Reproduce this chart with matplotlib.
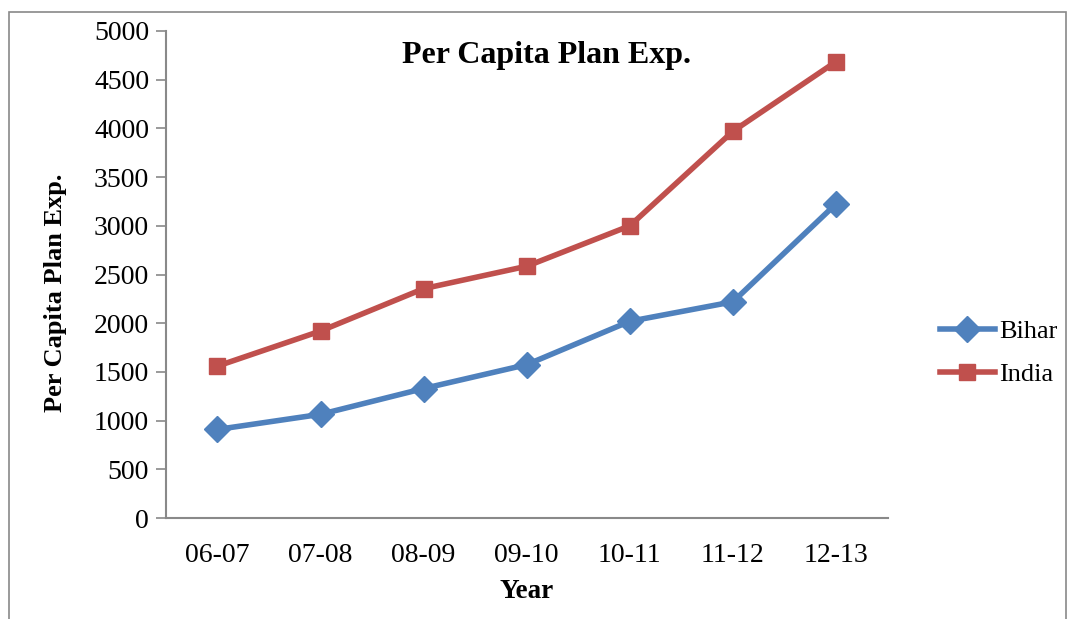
import matplotlib.pyplot as plt
from matplotlib.patches import Rectangle

years = ["06-07", "07-08", "08-09", "09-10", "10-11", "11-12", "12-13"]
bihar = [910, 1065, 1330, 1575, 2020, 2220, 3225]
india = [1560, 1920, 2355, 2585, 3000, 3970, 4685]

plt.rcParams["font.family"] = ["Liberation Serif", "DejaVu Serif"]

fig = plt.figure(figsize=(10.7, 6.19), dpi=100)
ax = fig.add_axes([0.155, 0.163, 0.6745, 0.787])

x = list(range(len(years)))
ax.plot(x, bihar, color="#4F81BD", lw=4, marker="D", ms=13, label="Bihar")
ax.plot(x, india, color="#C0504D", lw=4, marker="s", ms=11, label="India")

ax.set_xlim(-0.5, len(years) - 0.5)
ax.set_ylim(0, 5000)
ax.set_yticks(range(0, 5001, 500))
ax.set_xticks(x)
ax.set_xticklabels(years)
ax.tick_params(axis="y", length=7, width=1.2, color="#898989", labelsize=20, pad=5)
ax.tick_params(axis="x", length=0, labelsize=20, pad=18)

for side in ["top", "right"]:
    ax.spines[side].set_visible(False)
for side in ["left", "bottom"]:
    ax.spines[side].set_color("#898989")
    ax.spines[side].set_linewidth(1.5)

ax.set_xlabel("Year", fontsize=19.5, fontweight="bold", labelpad=8)
ax.set_ylabel("Per Capita Plan Exp.", fontsize=19, fontweight="bold")
ax.yaxis.set_label_coords(-0.137, 0.462)
fig.text(0.511, 0.911, "Per Capita Plan Exp.", fontsize=23, fontweight="bold",
         ha="center", va="center")

ax.legend(loc="center left", bbox_to_anchor=(0.856, 0.43), bbox_transform=fig.transFigure,
          frameon=False, fontsize=19, handlelength=2.1, handletextpad=0.15,
          labelspacing=0.75)

# outer chart border
fig.patches.append(Rectangle((9 / 1070, -0.05), 1057 / 1070, 1.05 - 12 / 619,
                             transform=fig.transFigure, fill=False,
                             edgecolor="#898989", lw=1.2))

fig.savefig("out.png", dpi=100)
